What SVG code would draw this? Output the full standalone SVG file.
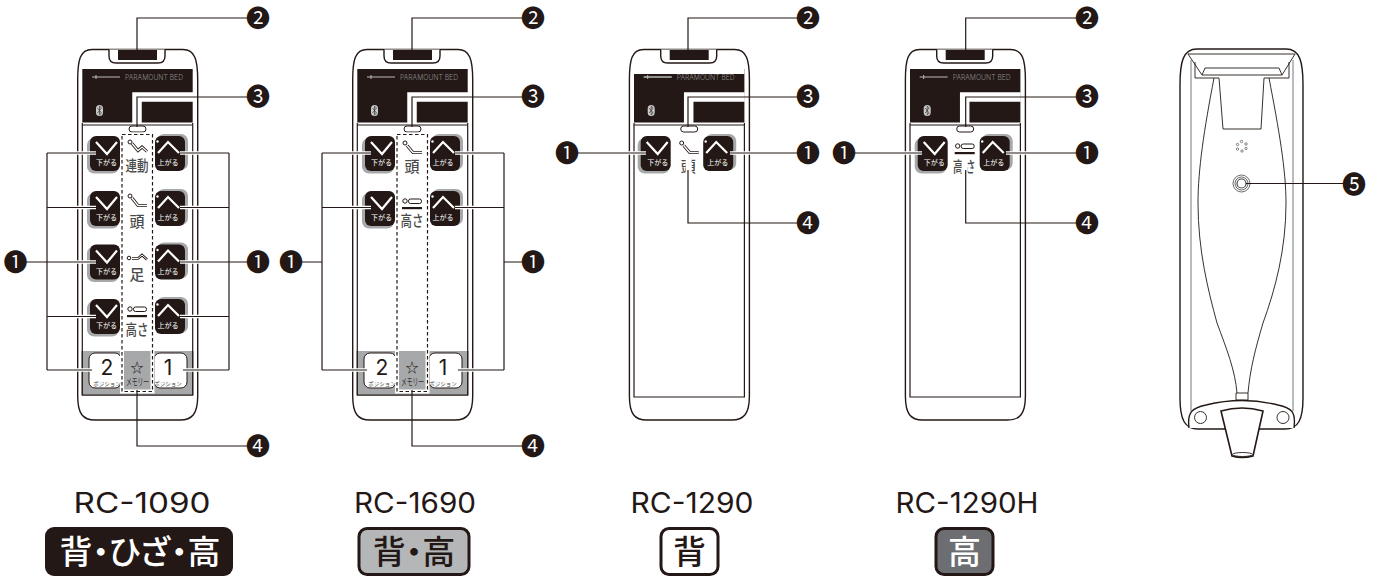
<svg xmlns="http://www.w3.org/2000/svg" xmlns:xlink="http://www.w3.org/1999/xlink" width="1373" height="576" viewBox="0 0 1373 576">
<style>
text{font-family:"Noto Sans CJK JP","Noto Sans",sans-serif}
.ln{fill:none;stroke:#231815;stroke-width:1.2}
.hl{fill:none;stroke:#fff;stroke-width:3.5}
.bd{fill:#fff;stroke:#231815;stroke-width:1.4}
.th{fill:none;stroke:#231815;stroke-width:.9}
.wh{fill:#fff;font-size:7px;text-anchor:middle}
.tg{fill:#4a4a4a;font-size:15px;text-anchor:middle;font-weight:500}
.ps{fill:#444;font-size:5.500px;text-anchor:middle}
.dg{fill:#231815;font-size:21px;text-anchor:middle;font-family:"Inter","Noto Sans",sans-serif}
.mk{fill:#231815;font-size:24px;text-anchor:middle}
.logo{fill:#8a8a8a;font-size:7.500px;font-weight:300;font-family:"Inter","Noto Sans",sans-serif}
.md{fill:#231815;font-size:28px;text-anchor:middle;font-family:"Inter","Noto Sans",sans-serif}
.bg{font-size:33px;font-weight:500;text-anchor:middle;font-feature-settings:"palt"}
</style>
<defs>
<g id="shell">
<path class="bd" d="M77.700 80C77.700 60 80 49.500 92 49.500H183C195 49.500 197.700 60 197.700 80V396C197.700 414 192 420 180 420H95C83 420 77.700 414 77.700 396Z"/>
<path class="bd" d="M109 49.500V56Q109 63 116 63H158Q165 63 165 56V49.500"/>
<rect x="118" y="50" width="39" height="10" fill="#231815"/>
</g>
<g id="screen">
<rect x="82.300" y="69" width="110.400" height="53.500" fill="#231815"/>
<path d="M137 128V97H193" fill="none" stroke="#fff" stroke-width="9.500"/>
<path d="M92 77H120M96 75V79" fill="none" stroke="#bbb" stroke-width="1"/>
<text class="logo" x="125" y="80" textLength="58" lengthAdjust="spacingAndGlyphs">PARAMOUNT BED</text>
<rect x="96" y="105" width="7" height="11" rx="3.500" fill="#c9c9c9"/>
<path d="M97.500 108L101.500 113L99.500 115V106L101.500 108L97.500 113" fill="none" stroke="#333" stroke-width=".7"/>
<path class="ln" d="M82.300 125H192.700"/>
<rect x="129" y="126" width="17" height="6" rx="3" fill="#fff" stroke="#231815" stroke-width="1"/>
</g>
<g id="btnD">
<rect x="-3" y="2" width="32" height="35.500" rx="7" fill="#a7a8aa"/>
<rect width="30" height="35" rx="6" fill="#231815"/>
<polyline points="6,6 17,18 27,6" fill="none" stroke="#fff" stroke-width="2.200"/>
</g>
<g id="btnU">
<rect x="2" y="-2" width="31" height="36" rx="7" fill="#a7a8aa"/>
<rect width="30" height="35" rx="6" fill="#231815"/>
<polyline points="3,17 13,6 24,17" fill="none" stroke="#fff" stroke-width="2.200"/>
<circle cx="2.500" cy="5.500" r="1.200" fill="#fff"/>
</g>
<g id="i1"><circle cx="130" cy="142" r="2" fill="#fff" stroke="#231815"/><path d="M132 143.500L138 150.500L142 147L147 151.500" fill="none" stroke="#231815" stroke-width="3"/><path d="M132 143.500L138 150.500L142 147L147 151.500" fill="none" stroke="#fff" stroke-width="1.300"/></g>
<g id="i2"><circle cx="130" cy="196" r="2" fill="#fff" stroke="#231815"/><path d="M132 198L138 205.500H147" fill="none" stroke="#231815" stroke-width="3"/><path d="M132 198L138 205.500H147" fill="none" stroke="#fff" stroke-width="1.300"/></g>
<g id="i4"><circle cx="130" cy="309" r="2.200" fill="#fff" stroke="#231815"/><rect x="133.500" y="307" width="13" height="4.500" rx="2" fill="#fff" stroke="#231815"/><rect x="127" y="315" width="20" height="2.200" fill="#231815"/></g>
</defs>

<g id="remote-rc1090">
<use href="#shell"/><use href="#screen"/>
<path class="ln" d="M82.300 123V395H192.700V123"/>
<rect x="82.300" y="351" width="110.400" height="44" fill="#a7a8aa"/>
<path class="ln" d="M82.300 351V395H192.700V351"/>
<use href="#btnD" x="90" y="136"/><use href="#btnU" x="155" y="136"/>
<use href="#btnD" x="90" y="191"/><use href="#btnU" x="155" y="191"/>
<use href="#btnD" x="90" y="244.500"/><use href="#btnU" x="155" y="244.500"/>
<use href="#btnD" x="90" y="299"/><use href="#btnU" x="155" y="299"/>
<text class="wh" x="106.500" y="165">下がる</text><text class="wh" x="168" y="165">上がる</text>
<text class="wh" x="106.500" y="220">下がる</text><text class="wh" x="168" y="220">上がる</text>
<text class="wh" x="106.500" y="273.500">下がる</text><text class="wh" x="168" y="273.500">上がる</text>
<text class="wh" x="106.500" y="328">下がる</text><text class="wh" x="168" y="328">上がる</text>
<rect x="89" y="353" width="32" height="35" rx="6" fill="#fff" stroke="#231815"/>
<rect x="154" y="353" width="33" height="35" rx="6" fill="#fff" stroke="#231815"/>
<rect x="122" y="134.500" width="30.500" height="257" fill="none" stroke="#fff" stroke-width="4"/>
<rect x="122" y="134.500" width="30.500" height="257" fill="none" stroke="#231815" stroke-width="1.200" stroke-dasharray="3.500 2.500"/>
<use href="#i1"/><use href="#i2"/>
<circle cx="129" cy="258" r="1.800" fill="#fff" stroke="#231815"/><path d="M132 258.500H138L142 255L147 259.500" fill="none" stroke="#231815" stroke-width="2.500"/><path d="M132 258.500H138L142 255L147 259.500" fill="none" stroke="#fff" stroke-width="1"/>
<use href="#i4"/>
<text class="tg" x="137" y="171" textLength="23" lengthAdjust="spacingAndGlyphs">連動</text>
<text class="tg" x="137" y="227">頭</text>
<text class="tg" x="137" y="280">足</text>
<text class="tg" x="137" y="335" textLength="23" lengthAdjust="spacingAndGlyphs">高さ</text>
<text class="dg" x="107" y="375">2</text><text class="dg" x="168" y="375">1</text>
<text class="ps" x="107" y="385.500">ポジション</text><text class="ps" x="168" y="385.500">ポジション</text>
<text x="137" y="372" font-size="13" text-anchor="middle" fill="#231815">☆</text>
<text transform="translate(137.500 386) scale(.58 1)" font-size="10" text-anchor="middle" fill="#333">メモリー</text>
</g>

<g id="remote-rc1690" transform="translate(275 0)">
<use href="#shell"/><use href="#screen"/>
<path class="ln" d="M82.300 123V395H192.700V123"/>
<rect x="82.300" y="351" width="110.400" height="44" fill="#a7a8aa"/>
<path class="ln" d="M82.300 351V395H192.700V351"/>
<use href="#btnD" x="90" y="136"/><use href="#btnU" x="155" y="136"/>
<use href="#btnD" x="90" y="191"/><use href="#btnU" x="155" y="191"/>
<text class="wh" x="106.500" y="165">下がる</text><text class="wh" x="168" y="165">上がる</text>
<text class="wh" x="106.500" y="220">下がる</text><text class="wh" x="168" y="220">上がる</text>
<rect x="89" y="353" width="32" height="35" rx="6" fill="#fff" stroke="#231815"/>
<rect x="154" y="353" width="33" height="35" rx="6" fill="#fff" stroke="#231815"/>
<rect x="122" y="134.500" width="30.500" height="257" fill="none" stroke="#fff" stroke-width="4"/>
<rect x="122" y="134.500" width="30.500" height="257" fill="none" stroke="#231815" stroke-width="1.200" stroke-dasharray="3.500 2.500"/>
<g transform="translate(0 2)"><path d="M132 143.500L138 150.500H147" fill="none" stroke="#231815" stroke-width="3"/><path d="M132 143.500L138 150.500H147" fill="none" stroke="#fff" stroke-width="1.300"/><circle cx="130" cy="141" r="2" fill="#fff" stroke="#231815"/></g>
<g transform="translate(0 -108)"><use href="#i4"/></g>
<text class="tg" x="137" y="172">頭</text>
<text class="tg" x="137" y="226" textLength="23" lengthAdjust="spacingAndGlyphs">高さ</text>
<text class="dg" x="107" y="375">2</text><text class="dg" x="168" y="375">1</text>
<text class="ps" x="107" y="385.500">ポジション</text><text class="ps" x="168" y="385.500">ポジション</text>
<text x="137" y="372" font-size="13" text-anchor="middle" fill="#231815">☆</text>
<text transform="translate(137.500 386) scale(.58 1)" font-size="10" text-anchor="middle" fill="#333">メモリー</text>
</g>

<g id="remote-rc1290" transform="translate(551.700 0)">
<use href="#shell"/><use href="#screen"/>
<rect x="82.300" y="65" width="110.400" height="9" fill="#fff"/>
<path d="M92 77H120" fill="none" stroke="#bbb"/>
<path class="ln" d="M82.300 123V397H192.700V123"/>
<use href="#btnD" x="89" y="136"/><use href="#btnU" x="151.500" y="136"/>
<text class="wh" x="106" y="165">下がる</text><text class="wh" x="166" y="165">上がる</text>
<g transform="translate(0 2)"><path d="M132 143.500L138 150.500H147" fill="none" stroke="#231815" stroke-width="3"/><path d="M132 143.500L138 150.500H147" fill="none" stroke="#fff" stroke-width="1.300"/><circle cx="130" cy="141" r="2" fill="#fff" stroke="#231815"/></g>
<text class="tg" x="136.500" y="172">頭</text>
<rect x="134" y="156" width="6" height="18" fill="#fff"/>
</g>

<g id="remote-rc1290h" transform="translate(827.700 0)">
<use href="#shell"/><use href="#screen"/>
<rect x="82.300" y="65" width="110.400" height="4" fill="#fff"/>
<path class="ln" d="M82.300 123V397H192.700V123"/>
<use href="#btnD" x="90" y="136"/><use href="#btnU" x="152" y="136"/>
<text class="wh" x="106.500" y="165">下がる</text><text class="wh" x="166" y="165">上がる</text>
<g transform="translate(0 -163)"><use href="#i4"/></g>
<text class="tg" x="136.500" y="172" textLength="23" lengthAdjust="spacingAndGlyphs">高さ</text>
<rect x="134" y="156" width="6" height="18" fill="#fff"/>
</g>

<g id="remote-back">
<path class="bd" d="M1180 85C1180 62 1183 49 1197 49H1286C1300 49 1303 62 1303 85V398C1303 420 1298 429 1285 429H1198C1185 429 1180 420 1180 398Z"/>
<path d="M1191 60V411M1293 60V411" fill="none" stroke="#77787b" stroke-width="1"/>
<path class="th" d="M1188 54H1295L1282 75H1202Z"/>
<path class="th" d="M1202 75L1205 68H1279L1282 75"/>
<path class="th" d="M1195 62V78H1214M1289 62V78H1269"/>
<path class="th" d="M1219 78H1214M1219 78L1223 129H1261L1264 78H1269"/>
<path class="th" d="M1214 78C1204 130 1198 170 1198 203C1198 250 1208 290 1217 323C1227 350 1235 370 1237 393M1269 78C1279 130 1286 170 1286 203C1286 250 1275 290 1263 323C1255 350 1250 370 1248 393"/>
<path class="th" d="M1236 393H1248V400H1236Z"/>
<path class="bd" d="M1189 428C1187 412 1192 408 1206 405C1230 399 1254 399 1278 405C1292 408 1296 412 1294 428" fill="#fff"/>
<circle class="th" cx="1200.500" cy="417.500" r="6"/><circle class="th" cx="1283" cy="417.500" r="6"/>
<path fill="#fff" stroke="#231815" stroke-width="1.600" d="M1221 411Q1242 405 1263 411L1253 456Q1242 459 1232 456Z"/>
<ellipse class="th" cx="1242.500" cy="454.500" rx="10" ry="2"/>
<g fill="none" stroke="#555" stroke-width=".7"><circle cx="1241.500" cy="141.500" r="1.200"/><circle cx="1246" cy="144" r="1.200"/><circle cx="1246" cy="148.500" r="1.200"/><circle cx="1242" cy="151" r="1.200"/><circle cx="1237.500" cy="149" r="1.200"/><circle cx="1237.500" cy="144.500" r="1.200"/></g>
<g fill="none" stroke="#444" stroke-width=".8"><circle cx="1241.500" cy="183.500" r="8.500"/><circle cx="1241.500" cy="183.500" r="6.500"/><circle cx="1241.500" cy="183.500" r="4.500" stroke-width="1.200"/></g>
</g>

<g id="connectors">
<path class="hl" d="M47 153H96M47 207.500H96M47 262H96M47 316.500H96M47 370H92M229 153H180M229 207.500H180M229 262H180M229 316.500H180M229 370H183"/>
<path class="ln" d="M47 153H96M47 207.500H96M26 262H96M47 316.500H96M47 370H92M47 153V370"/>
<path class="ln" d="M229 153H180M229 207.500H180M248 262H180M229 316.500H180M229 370H183M229 153V370"/>
<path class="ln" d="M137 50V18H248M137 127V97H248M137 390V446H248"/>
<path class="hl" d="M322 153H371M322 207.500H371M504 153H455M504 207.500H455M322 370H367M504 370H458"/>
<path class="ln" d="M322 153H371M322 207.500H371M322 370H367M322 153V370M302 262H322"/>
<path class="ln" d="M504 153H455M504 207.500H455M504 370H458M504 153V370M504 262H523"/>
<path class="ln" d="M412 50V18H523M412 127V97H523M412 390V446H523"/>
<path class="hl" d="M577 153H646M798 153H730"/>
<path class="ln" d="M577 153H646M798 153H730M688 50V18H798M688 127V97H798M688 170V223H798"/>
<path class="hl" d="M854 153H922M1077 153H1006"/>
<path class="ln" d="M854 153H922M1077 153H1006M965.700 50V18H1077M965.700 127V97H1077M965.700 170V223H1077"/>
<path class="ln" d="M1246 183.500H1344"/>
</g>

<g id="m1a"><text class="mk" x="15.500" y="270.500">❶</text></g>
<g id="m1b"><text class="mk" x="258" y="270.500">❶</text></g>
<g id="m2a"><text class="mk" x="258" y="26.500">❷</text></g>
<g id="m3a"><text class="mk" x="258" y="104.500">❸</text></g>
<g id="m4a"><text class="mk" x="258" y="454.500">❹</text></g>
<g id="m1c"><text class="mk" x="291" y="270.500">❶</text></g>
<g id="m1d"><text class="mk" x="533" y="270.500">❶</text></g>
<g id="m2b"><text class="mk" x="533" y="26.500">❷</text></g>
<g id="m3b"><text class="mk" x="533" y="104.500">❸</text></g>
<g id="m4b"><text class="mk" x="533" y="454.500">❹</text></g>
<g id="m1e"><text class="mk" x="567" y="161.500">❶</text></g>
<g id="m1f"><text class="mk" x="808" y="161.500">❶</text></g>
<g id="m2c"><text class="mk" x="808" y="26.500">❷</text></g>
<g id="m3c"><text class="mk" x="808" y="104.500">❸</text></g>
<g id="m4c"><text class="mk" x="808" y="231.500">❹</text></g>
<g id="m1g"><text class="mk" x="844" y="161.500">❶</text></g>
<g id="m1h"><text class="mk" x="1087" y="161.500">❶</text></g>
<g id="m2d"><text class="mk" x="1087" y="26.500">❷</text></g>
<g id="m3d"><text class="mk" x="1087" y="104.500">❸</text></g>
<g id="m4d"><text class="mk" x="1087" y="231.500">❹</text></g>
<g id="m5"><text class="mk" x="1354" y="192.500">❺</text></g>

<g id="label-rc1090"><text class="md" x="142" y="513" textLength="137" lengthAdjust="spacingAndGlyphs">RC-1090</text>
<rect x="45" y="527" width="188" height="49" rx="9" fill="#231815"/>
<text class="bg" x="140" y="564" fill="#fff">背・ひざ・高</text></g>
<g id="label-rc1690"><text class="md" x="415" y="513" textLength="122" lengthAdjust="spacingAndGlyphs">RC-1690</text>
<rect x="359" y="528.500" width="110" height="46" rx="8" fill="#b5b6b8" stroke="#231815" stroke-width="3"/>
<text class="bg" x="414" y="564" fill="#231815">背・高</text></g>
<g id="label-rc1290"><text class="md" x="692" y="513" textLength="123" lengthAdjust="spacingAndGlyphs">RC-1290</text>
<rect x="661" y="528.500" width="57" height="46" rx="8" fill="#fff" stroke="#231815" stroke-width="3"/>
<text class="bg" x="689.500" y="564" fill="#231815">背</text></g>
<g id="label-rc1290h"><text class="md" x="967" y="513" textLength="143" lengthAdjust="spacingAndGlyphs">RC-1290H</text>
<rect x="936" y="528.500" width="57" height="46" rx="8" fill="#6d6e71" stroke="#231815" stroke-width="3"/>
<text class="bg" x="964.500" y="564" fill="#fff">高</text></g>
</svg>
